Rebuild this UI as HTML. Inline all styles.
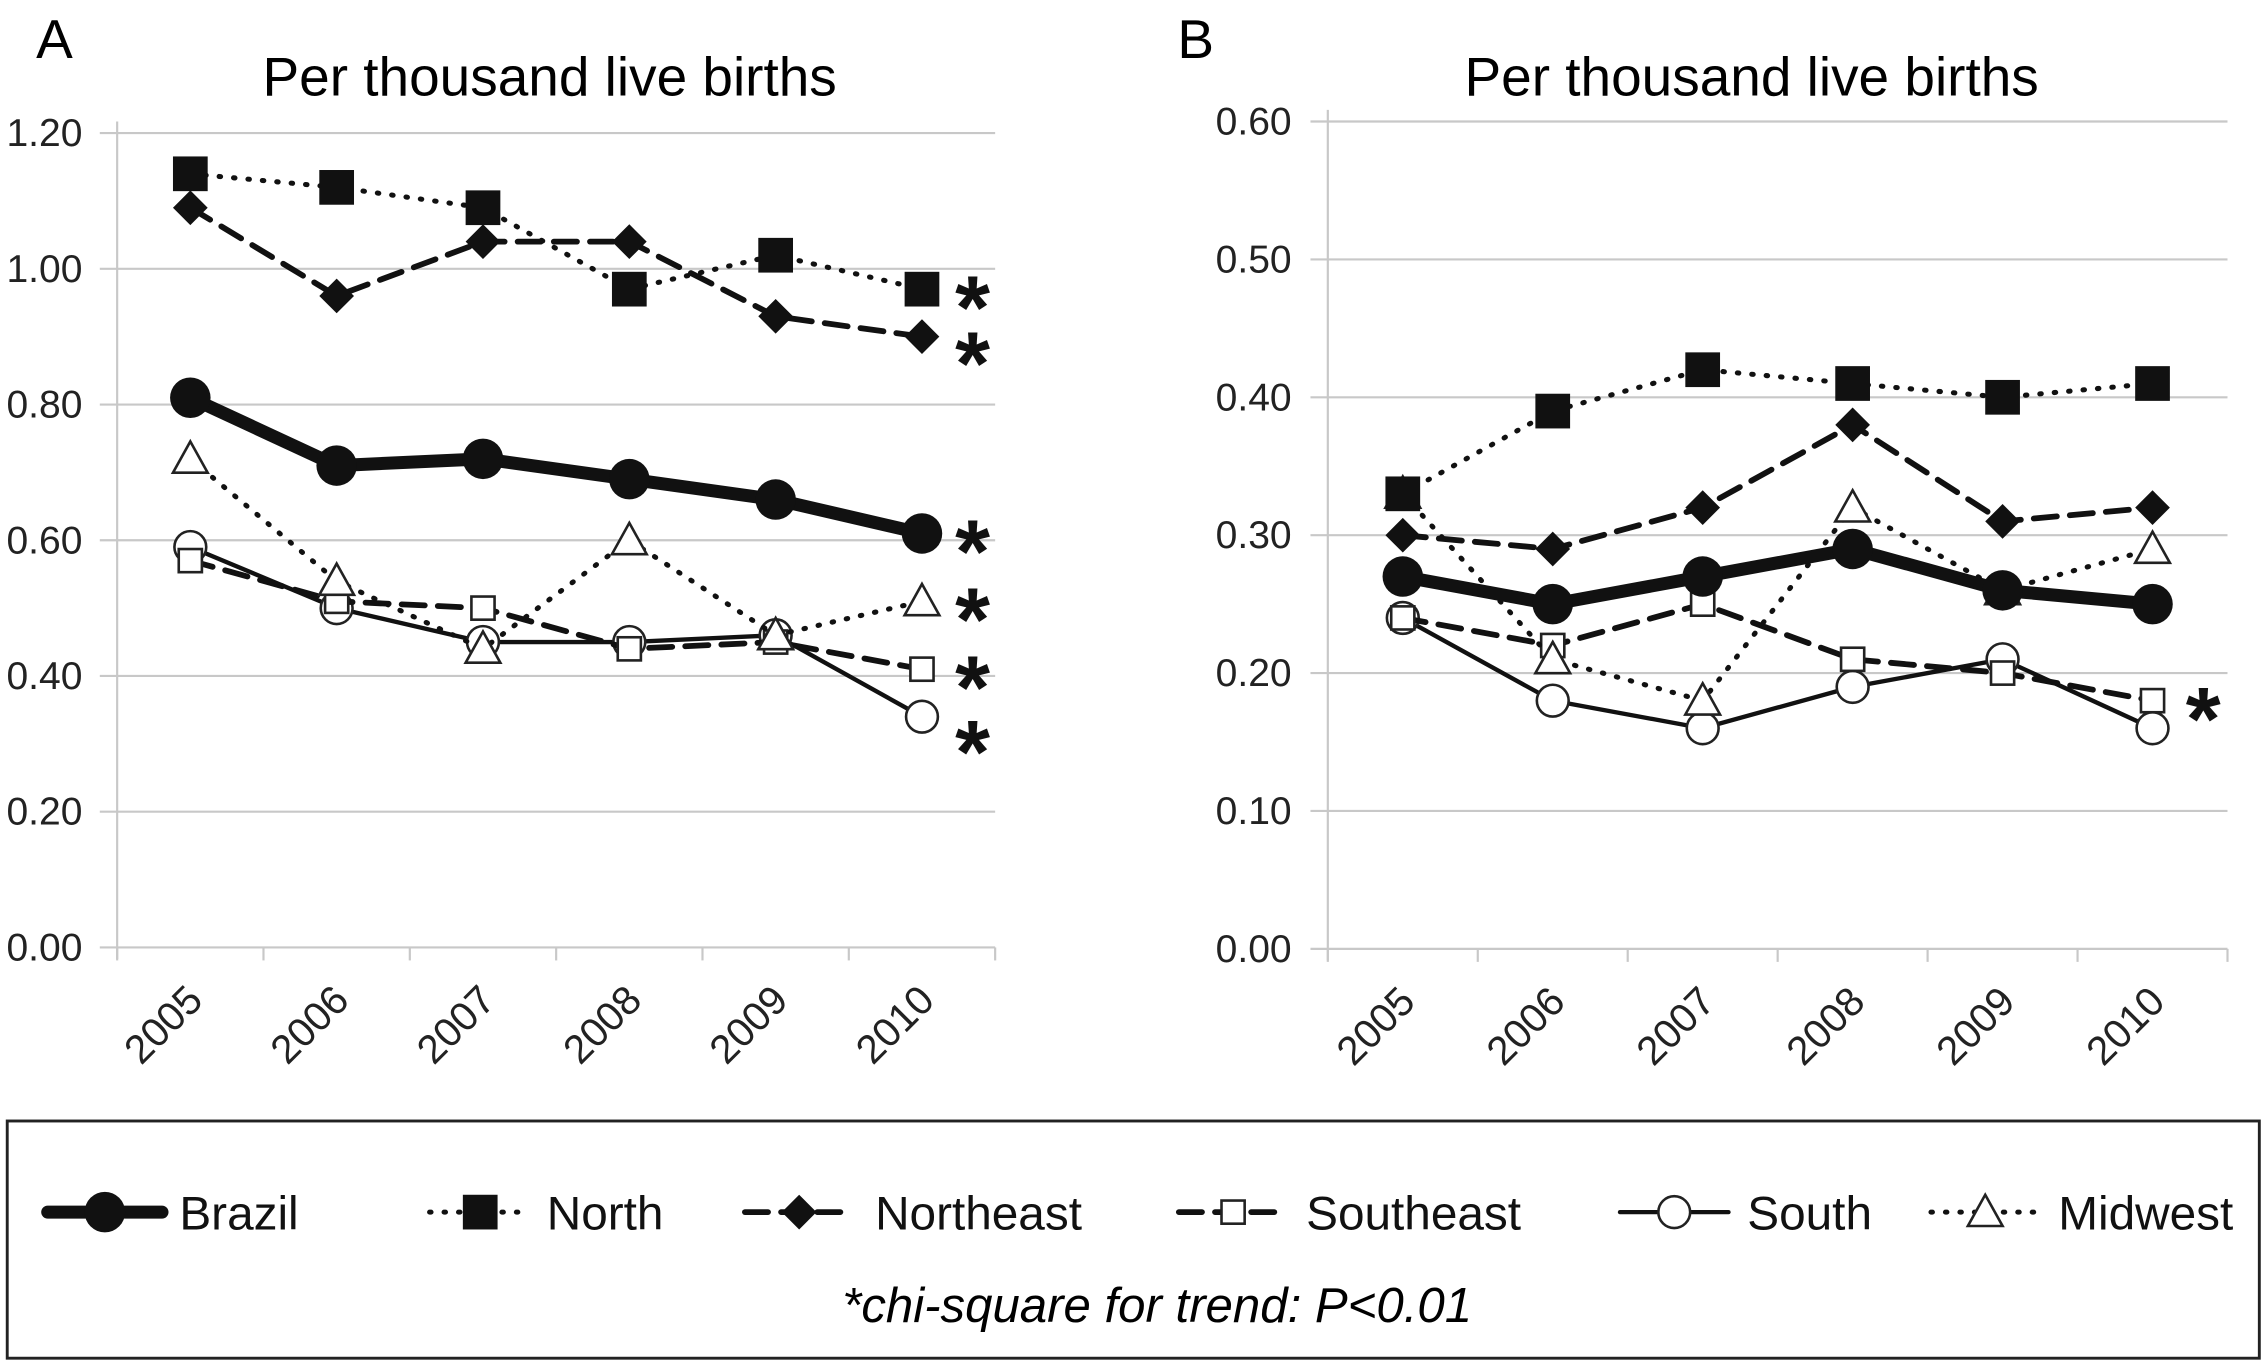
<!DOCTYPE html>
<html><head><meta charset="utf-8"><style>
html,body{margin:0;padding:0;background:#fff}
svg{display:block;font-family:"Liberation Sans",Arial,sans-serif}
</style></head><body>
<svg id="chart" width="2268" height="1364" viewBox="0 0 1568 943" xmlns="http://www.w3.org/2000/svg">
<text x="25" y="40" font-size="38">A</text>
<text x="380" y="66" font-size="38" text-anchor="middle">Per thousand live births</text>
<text x="814" y="40" font-size="38">B</text>
<text x="1211" y="66" font-size="38" text-anchor="middle">Per thousand live births</text>
<g id="pa"></g>
<g id="pb"></g>
<rect x="5" y="775" width="1557" height="164" fill="none" stroke="#222" stroke-width="2"/>
<g id="legend"></g>
<text x="800" y="914" font-size="34" font-style="italic" text-anchor="middle">*chi-square for trend: P&lt;0.01</text>
</svg>
<script>
const years = ["2005","2006","2007","2008","2009","2010"];
const ticksA = ["0.00","0.20","0.40","0.60","0.80","1.00","1.20"];
const ticksB = ["0.00","0.10","0.20","0.30","0.40","0.50","0.60"];
const aBrazil = [0.81,0.71,0.72,0.69,0.66,0.61];
const aNorth = [1.14,1.12,1.09,0.97,1.02,0.97];
const aNortheast = [1.09,0.96,1.04,1.04,0.93,0.90];
const aSoutheast = [0.57,0.51,0.50,0.44,0.45,0.41];
const aSouth = [0.59,0.50,0.45,0.45,0.46,0.34];
const aMidwest = [0.72,0.54,0.44,0.60,0.46,0.51];
const bBrazil = [0.27,0.25,0.27,0.29,0.26,0.25];
const bNorth = [0.33,0.39,0.42,0.41,0.40,0.41];
const bNortheast = [0.30,0.29,0.32,0.38,0.31,0.32];
const bSoutheast = [0.24,0.22,0.25,0.21,0.20,0.18];
const bSouth = [0.24,0.18,0.16,0.19,0.21,0.16];
const bMidwest = [0.33,0.21,0.18,0.32,0.26,0.29];
const starsA = ["north","northeast","brazil","midwest","southeast","south"];
const starsB = ["southeast"];

const NS="http://www.w3.org/2000/svg";
function mk(tag,attrs,parent){const e=document.createElementNS(NS,tag);for(const k in attrs)e.setAttribute(k,attrs[k]);parent.appendChild(e);return e;}

const styles={
 brazil:{w:9,dash:null,marker:"circleF",ms:14},
 north:{w:3.5,dash:"1 9",marker:"square",ms:12},
 northeast:{w:4,dash:"16 9",marker:"diamond",ms:12},
 southeast:{w:4,dash:"16 9",marker:"squareO",ms:8},
 south:{w:3,dash:null,marker:"circleO",ms:11},
 midwest:{w:3.5,dash:"1 9",marker:"triangle",ms:12}
};
function marker(type,x,y,s,g){
 let e;
 if(type==="circleF") e=mk("circle",{cx:x,cy:y,r:s,fill:"#111"},g);
 else if(type==="circleO") e=mk("circle",{cx:x,cy:y,r:s,fill:"#fff",stroke:"#222","stroke-width":1.8},g);
 else if(type==="square") e=mk("rect",{x:x-s,y:y-s,width:2*s,height:2*s,fill:"#111"},g);
 else if(type==="squareO"){e=mk("rect",{x:x-s,y:y-s,width:2*s,height:2*s,fill:"#fff",stroke:"#222","stroke-width":1.8},g);}
 else if(type==="diamond") e=mk("polygon",{points:`${x},${y-s} ${x+s},${y} ${x},${y+s} ${x-s},${y}`,fill:"#111"},g);
 else if(type==="triangle") e=mk("polygon",{points:`${x},${y-s} ${x+s},${y+s*0.8} ${x-s},${y+s*0.8}`,fill:"#fff",stroke:"#222","stroke-width":1.8},g);
 
 
 return e;
}

function panel(g,cfg){
 const {x0,x1,y0,y1,max,ticks,series,stars,labelX}=cfg;
 const bw=(x1-x0)/years.length;
 const xs=i=>x0+bw*(i+0.5);
 const ys=v=>y0-(v/max)*(y0-y1);
 ticks.forEach((t,i)=>{
  const v=max*i/(ticks.length-1), y=ys(v);
  const l=mk("line",{x1:x0-12,x2:x1,y1:y,y2:y,stroke:"#c8c8c8","stroke-width":1.5},g);
  
  
  const tx=mk("text",{x:labelX,y:y+9,"font-size":27,"text-anchor":"end",fill:"#222"},g);
  tx.textContent=t;
  
  
 });
 const ax=mk("line",{x1:x0,x2:x0,y1:y1-8,y2:y0+8,stroke:"#c8c8c8","stroke-width":1.5},g);
 
 
 for(let i=0;i<=years.length;i++){
  const x=x0+bw*i;
  const t=mk("line",{x1:x,x2:x,y1:y0,y2:y0+9,stroke:"#c8c8c8","stroke-width":1.5},g);
  
  
 }
 years.forEach((yr,i)=>{
  const x=xs(i)+10,y=y0+38;
  const t=mk("text",{x:x,y:y,"font-size":28,"text-anchor":"end",transform:`rotate(-45 ${x} ${y})`,fill:"#222"},g);
  t.textContent=yr;
  
  
 });
 const order=["south","southeast","midwest","northeast","north","brazil"];
 order.forEach(k=>{
  const vals=series[k], st=styles[k];
  const sg=mk("g",{},g);
  
  
  const d=vals.map((v,i)=>(i?"L":"M")+xs(i)+" "+ys(v)).join(" ");
  const p=mk("path",{d:d,fill:"none",stroke:"#111","stroke-width":st.w,"stroke-linecap":"round","stroke-linejoin":"round"},sg);
  if(st.dash)p.setAttribute("stroke-dasharray",st.dash);
  
  
  vals.forEach((v,i)=>marker(st.marker,xs(i),ys(v),st.ms,sg));
 });
 stars.forEach(k=>{
  const vals=series[k];
  let y=ys(vals[vals.length-1])+34;
  if(k==="northeast"&&stars.length>1)y+=6;
  if(k==="south"&&stars.length>1)y+=12;
  const s=mk("text",{x:xs(5)+35,y:y,"font-size":62,"font-weight":"bold","text-anchor":"middle",fill:"#111"},g);
  s.textContent="*";
  
  
 });
}
panel(document.getElementById("pa"),{x0:81,x1:688,y0:655,y1:92,max:1.2,ticks:ticksA,labelX:57,
 series:{brazil:aBrazil,north:aNorth,northeast:aNortheast,southeast:aSoutheast,south:aSouth,midwest:aMidwest},stars:starsA});
panel(document.getElementById("pb"),{x0:918,x1:1540,y0:656,y1:84,max:0.6,ticks:ticksB,labelX:893,
 series:{brazil:bBrazil,north:bNorth,northeast:bNortheast,southeast:bSoutheast,south:bSouth,midwest:bMidwest},stars:starsB});

const legendKeys=["brazil","north","northeast","southeast","south","midwest"];
const legendLabels=["Brazil","North","Northeast","Southeast","South","Midwest"];
const legX=[[33,112,124],[297,367,378],[515,590,605],[815,890,903],[1120,1195,1208],[1335,1410,1423]];
const lg=document.getElementById("legend");
legendKeys.forEach((k,i)=>{
 const st=styles[k],[a,b,tx]=legX[i],y=838;
 const eg=mk("g",{},lg);
 
 
 const l=mk("line",{x1:a,x2:b,y1:y,y2:y,stroke:"#111","stroke-width":st.w,"stroke-linecap":"round"},eg);
 if(st.dash)l.setAttribute("stroke-dasharray",st.dash);
 
 
 marker(st.marker,(a+b)/2,y,st.ms,eg);
 const t=mk("text",{x:tx,y:y+12,"font-size":33,fill:"#111"},eg);
 t.textContent=legendLabels[i];
 
 
});
</script>
</body></html>
